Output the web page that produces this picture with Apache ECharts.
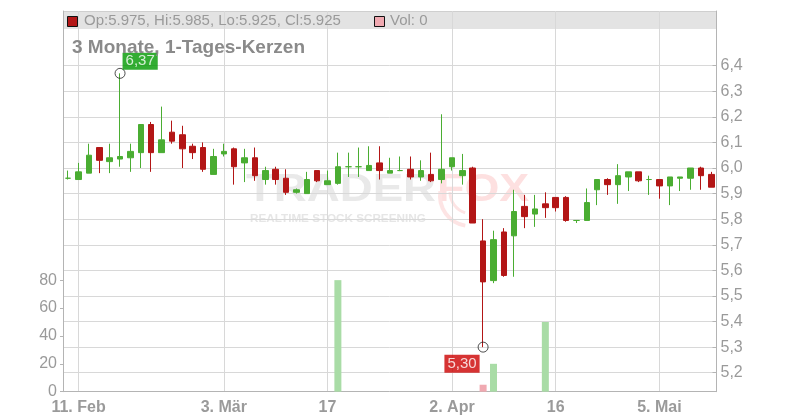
<!DOCTYPE html>
<html>
<head>
<meta charset="utf-8">
<script src="https://cdn.jsdelivr.net/npm/echarts@6/dist/echarts.min.js"></script>
<style>
html,body{margin:0;padding:0;background:#fff;}
#chart{width:800px;height:420px;}
</style>
</head>
<body>
<div id="chart"></div>
<script>
// ---- data ----
var dates = [
 '2025-02-10','2025-02-11','2025-02-12','2025-02-13','2025-02-14',
 '2025-02-17','2025-02-18','2025-02-19','2025-02-20','2025-02-21',
 '2025-02-24','2025-02-25','2025-02-26','2025-02-27','2025-02-28',
 '2025-03-03','2025-03-04','2025-03-05','2025-03-06','2025-03-07',
 '2025-03-10','2025-03-11','2025-03-12','2025-03-13','2025-03-14',
 '2025-03-17','2025-03-18','2025-03-19','2025-03-20','2025-03-21',
 '2025-03-24','2025-03-25','2025-03-26','2025-03-27','2025-03-28',
 '2025-03-31','2025-04-01','2025-04-02','2025-04-03','2025-04-04',
 '2025-04-07','2025-04-08','2025-04-09','2025-04-10','2025-04-11',
 '2025-04-14','2025-04-15','2025-04-16','2025-04-17',
 '2025-04-22','2025-04-23','2025-04-24','2025-04-25',
 '2025-04-28','2025-04-29','2025-04-30','2025-05-02',
 '2025-05-05','2025-05-06','2025-05-07','2025-05-08','2025-05-09',
 '2025-05-12'
];
var openVals = [
 5.960,5.955,5.980,6.080,6.025, 6.035,6.040,6.060,6.170,6.060,
 6.140,6.130,6.085,6.080,5.975, 6.055,6.075,6.020,6.040,5.955,
 5.995,5.960,5.905,5.900,5.990, 5.935,5.940,6.005,6.005,5.990,
 6.020,5.980,5.990,5.995,5.965, 5.975,5.955,6.005,5.970,6.000,
 5.715,5.560,5.750,5.735,5.850, 5.820,5.860,5.885,5.885,
 5.795,5.795,5.915,5.955, 5.935,5.965,5.985,5.955,
 5.955,5.930,5.960,5.960,6.000, 5.975
];
var highVals = [
 5.990,6.020,6.095,6.080,6.095, 6.370,6.095,6.170,6.180,6.240,
 6.185,6.165,6.095,6.100,6.075, 6.095,6.080,6.075,6.080,6.005,
 6.005,5.995,5.920,5.985,5.990, 5.990,6.060,6.060,6.080,6.085,
 6.085,6.040,6.045,6.045,6.030, 6.060,6.210,6.040,6.055,6.005,
 5.800,5.755,5.765,5.915,5.895, 5.895,5.905,5.885,5.890,
 5.795,5.920,5.955,5.960, 6.015,5.985,5.985,5.970,
 5.955,5.965,5.965,6.000,6.005, 5.985
];
var lowVals = [
 5.955,5.955,5.980,5.980,5.980, 6.005,5.985,6.000,5.985,6.060,
 6.095,6.000,6.035,5.985,5.975, 6.045,5.935,5.945,5.950,5.935,
 5.935,5.895,5.900,5.900,5.945, 5.935,5.935,5.965,5.965,5.990,
 5.955,5.980,5.988,5.955,5.950, 5.945,5.940,5.990,5.935,5.785,
 5.300,5.550,5.575,5.575,5.765, 5.770,5.805,5.830,5.790,
 5.785,5.795,5.855,5.895, 5.860,5.910,5.945,5.895,
 5.880,5.855,5.910,5.915,5.915, 5.925
];
var closeVals = [
 5.960,5.985,6.050,6.030,6.040, 6.045,6.065,6.170,6.060,6.110,
 6.105,6.075,6.060,5.995,6.045, 6.065,6.005,6.040,5.970,5.990,
 5.955,5.905,5.915,5.955,5.950, 5.950,6.005,6.005,6.005,6.010,
 5.990,5.990,5.990,5.965,5.990, 5.950,5.995,6.040,5.990,5.785,
 5.555,5.720,5.580,5.830,5.810, 5.840,5.845,5.845,5.795,
 5.795,5.865,5.955,5.935, 5.970,5.985,5.950,5.955,
 5.930,5.965,5.965,6.000,5.970, 5.925
];
var volumeVals = [
 0,0,0,0,0, 0,0,0,0,0,
 0,0,0,0,0, 0,0,0,0,0,
 0,0,0,0,0, 0,80,0,0,0,
 0,0,0,0,0, 0,0,0,0,0,
 5,20,0,0,0, 0,50,0,0,
 0,0,0,0, 0,0,0,0,
 0,0,0,0,0, 0
];
var xTickLabels = {
 '2025-02-11':'11. Feb','2025-03-03':'3. Mär','2025-03-17':'17',
 '2025-04-02':'2. Apr','2025-04-16':'16','2025-05-05':'5. Mai'
};
var priceTicks = [5.2,5.3,5.4,5.5,5.6,5.7,5.8,5.9,6.0,6.1,6.2,6.3,6.4];
var volumeTicks = [0,20,40,60,80];
var titleText = '3 Monate, 1-Tages-Kerzen';

// ---- styles ----
var UP = '#4aad32', DOWN = '#b31616';
var VOL_UP = '#a9dca6', VOL_DOWN = '#f0a9b1';
var GRID = '#d8d8d8', AXIS = '#b4b4b4', LBL = '#9a9a9a';
var FONT = '"Liberation Sans", Arial, sans-serif';

var candleData = dates.map(function (d, i) {
  return [openVals[i], closeVals[i], lowVals[i], highVals[i]];
});
var volData = volumeVals.map(function (v, i) {
  var up = i === 0 ? true : closeVals[i] >= closeVals[i - 1];
  return { value: v, itemStyle: { color: up ? VOL_UP : VOL_DOWN } };
});
var hiIdx = 0, loIdx = 0;
highVals.forEach(function (v, i) { if (v > highVals[hiIdx]) hiIdx = i; });
lowVals.forEach(function (v, i) { if (v < lowVals[loIdx]) loIdx = i; });
function fmt(v, d) { return v.toFixed(d).replace('.', ','); }
var last = dates.length - 1;
var tickFn = function (idx, val) { return xTickLabels.hasOwnProperty(val); };

var chart = echarts.init(document.getElementById('chart'), null, { renderer: 'canvas' });
chart.setOption({
  animation: false,
  backgroundColor: '#fff',
  textStyle: { fontFamily: FONT },
  grid: { left: 63, right: 83.5, top: 11, bottom: 28.3, containLabel: false },
  xAxis: {
    type: 'category', data: dates, boundaryGap: true,
    axisLine: { lineStyle: { color: AXIS } },
    axisTick: { interval: tickFn, alignWithLabel: true, length: 4, lineStyle: { color: AXIS } },
    axisLabel: {
      interval: tickFn, margin: 8, color: LBL, fontSize: 16, fontWeight: 'bold', fontFamily: FONT,
      formatter: function (v) { return xTickLabels[v] || ''; }
    },
    splitLine: { show: true, interval: tickFn, alignWithLabel: true, lineStyle: { color: GRID } }
  },
  yAxis: [{
    type: 'value', position: 'right', min: 5.1258, max: 6.6136, scale: true,
    axisLine: { show: true, lineStyle: { color: AXIS } },
    axisTick: { show: true, inside: true, length: 4, customValues: priceTicks, lineStyle: { color: AXIS } },
    axisLabel: { customValues: priceTicks, margin: 4, color: LBL, fontSize: 16, fontFamily: FONT,
      padding: [3, 0, 0, 0],
      formatter: function (v) { return fmt(v, 1); } },
    splitLine: { show: true, lineStyle: { color: GRID } }
  }, {
    type: 'value', position: 'left', min: 0, max: 273,
    axisLine: { show: true, lineStyle: { color: AXIS } },
    axisTick: { show: true, length: 3, customValues: volumeTicks, lineStyle: { color: AXIS } },
    axisLabel: { customValues: volumeTicks, margin: 6, color: LBL, fontSize: 16, fontFamily: FONT,
      padding: [3, 0, 0, 0] },
    splitLine: { show: false }
  }],
  series: [{
    type: 'bar', yAxisIndex: 1, data: volData, barWidth: 7, z: 1
  }, {
    type: 'candlestick', yAxisIndex: 0, data: candleData, barWidth: 6,
    itemStyle: { color: UP, color0: DOWN, borderColor: UP, borderColor0: DOWN, borderWidth: 1 },
    z: 2
  }, {
    type: 'scatter', yAxisIndex: 0, symbol: 'circle', symbolSize: 10, z: 5,
    itemStyle: { color: 'rgba(255,255,255,0)', borderColor: '#222', borderWidth: 1 },
    data: [{
      value: [hiIdx, highVals[hiIdx]],
      label: { show: true, position: [8, -15], align: 'left', verticalAlign: 'top',
        formatter: fmt(highVals[hiIdx], 2), color: '#fff', fontSize: 15, fontFamily: FONT,
        backgroundColor: '#009900', padding: [1, 3, 1, 3], lineHeight: 15 }
    }, {
      value: [loIdx, lowVals[loIdx]],
      label: { show: true, position: [2, 13], align: 'right', verticalAlign: 'top',
        formatter: fmt(lowVals[loIdx], 2), color: '#fff', fontSize: 15, fontFamily: FONT,
        backgroundColor: '#cc0000', padding: [1, 3, 1, 3], lineHeight: 16 }
    }]
  }],
  graphic: [
    // watermark
    { type: 'text', left: 246, top: 172, z: -2, scaleX: 1.2,
      style: { text: 'TRADER', font: 'bold 38px ' + FONT, fill: '#e9e9e9' } },
    { type: 'text', left: 437, top: 172, z: -2, scaleX: 1.18,
      style: { text: 'FOX', font: 'bold 38px ' + FONT, fill: '#fde0e0' } },
    { type: 'arc', z: -2, shape: { cx: 470, cy: 196, r: 30, startAngle: 0.55 * Math.PI, endAngle: 1.05 * Math.PI },
      style: { stroke: '#fde4e4', lineWidth: 4, fill: null } },
    { type: 'arc', z: -2, shape: { cx: 472, cy: 192, r: 22, startAngle: 0.6 * Math.PI, endAngle: 1.0 * Math.PI },
      style: { stroke: '#fde4e4', lineWidth: 3, fill: null } },
    { type: 'text', left: 250, top: 214, z: -2, scaleX: 1.17,
      style: { text: 'REALTIME STOCK SCREENING', font: 'bold 10px ' + FONT, fill: '#e6e6e6' } },
    // legend bar
    { type: 'rect', z: -1, shape: { x: 63, y: 11, width: 653.5, height: 18 },
      style: { fill: '#e3e3e3' } },
    { type: 'line', z: -1, shape: { x1: 63, y1: 11.5, x2: 716.5, y2: 11.5 },
      style: { stroke: '#cfcfcf', lineWidth: 1 } },
    { type: 'rect', z: 10, shape: { x: 67.5, y: 16.5, width: 10, height: 10 },
      style: { fill: DOWN, stroke: '#111', lineWidth: 1 } },
    { type: 'text', z: 10, x: 84, y: 21,
      style: { text: 'Op:' + openVals[last].toFixed(3) + ', Hi:' + highVals[last].toFixed(3) +
        ', Lo:' + lowVals[last].toFixed(3) + ', Cl:' + closeVals[last].toFixed(3),
        font: '15px ' + FONT, fill: LBL, textVerticalAlign: 'middle', verticalAlign: 'middle' } },
    { type: 'rect', z: 10, shape: { x: 374.5, y: 16.5, width: 10, height: 10 },
      style: { fill: VOL_DOWN, stroke: '#111', lineWidth: 1 } },
    { type: 'text', z: 10, x: 390, y: 21,
      style: { text: 'Vol: ' + volumeVals[last], font: '15px ' + FONT, fill: LBL,
        textVerticalAlign: 'middle', verticalAlign: 'middle' } },
    // title
    { type: 'text', z: 10, x: 72, y: 48,
      style: { text: titleText, font: 'bold 19px ' + FONT, fill: '#8a8a8a',
        textVerticalAlign: 'middle', verticalAlign: 'middle' } }
  ]
});
</script>
</body>
</html>
